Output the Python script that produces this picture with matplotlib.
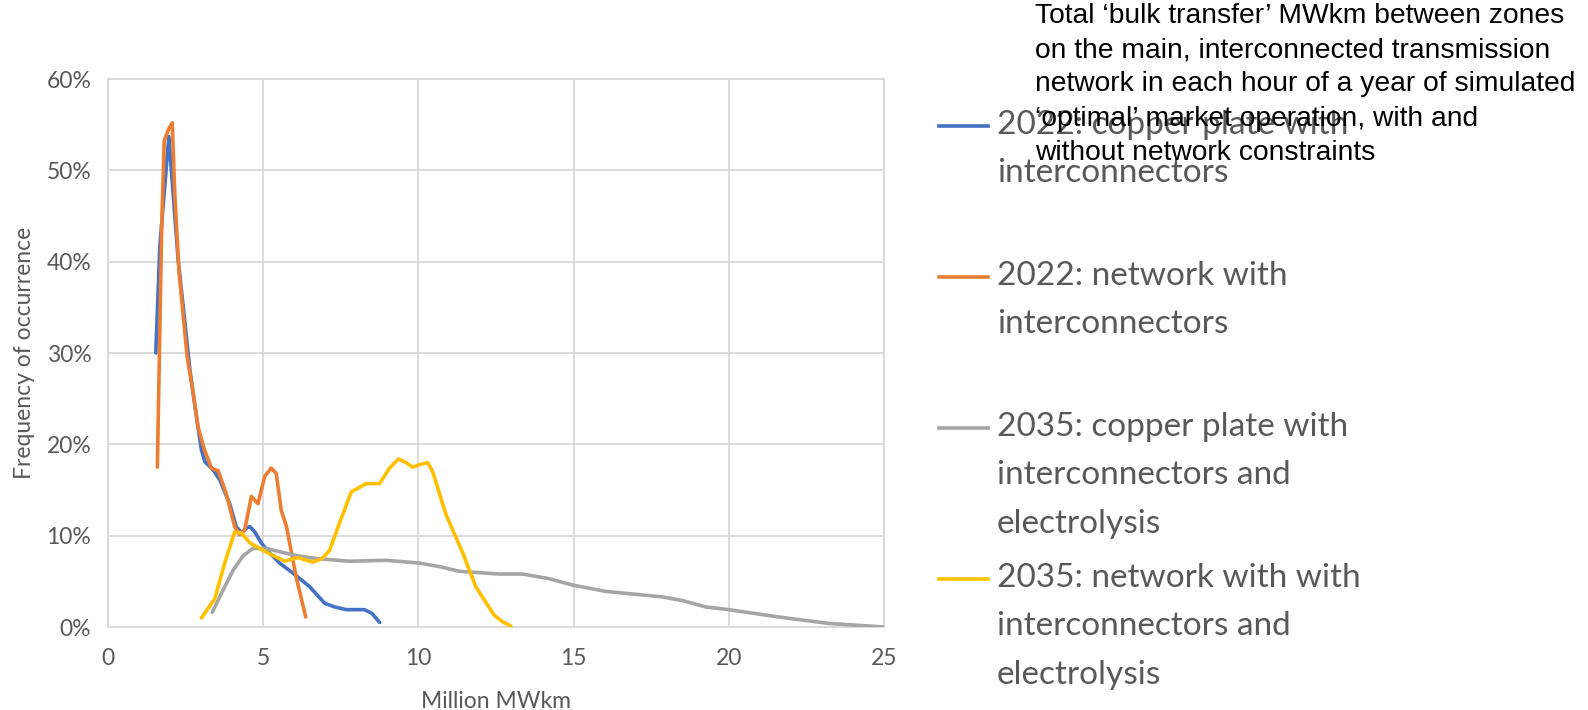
import matplotlib.pyplot as plt
from matplotlib.lines import Line2D
from matplotlib.ticker import FuncFormatter

# frequency of occurrence (%) against bulk transfer (million MWkm)
cp22_x = [1.54, 1.67, 1.96, 2.26, 2.48, 2.64, 2.85, 3.01, 3.12, 3.39, 3.6, 3.92, 4.13, 4.30, 4.45,
          4.57, 4.73, 4.94, 5.21, 5.53, 5.96, 6.5, 6.98, 7.3, 7.67, 8.0, 8.26, 8.5, 8.75]
cp22_y = [30.0, 41.7, 53.7, 40.2, 33.3, 28.1, 23.0, 19.4, 18.1, 17.2, 16.1, 13.5, 11.0, 10.3, 10.8,
          11.0, 10.4, 9.2, 8.1, 7.0, 5.9, 4.4, 2.6, 2.2, 1.9, 1.9, 1.9, 1.5, 0.5]

nw22_x = [1.59, 1.73, 1.81, 1.95, 2.07, 2.15, 2.29, 2.55, 2.75, 2.90, 3.1, 3.33, 3.55, 3.81, 4.08,
          4.24, 4.40, 4.62, 4.83, 5.05, 5.26, 5.42, 5.58, 5.75, 6.06, 6.37]
nw22_y = [17.5, 43.8, 53.2, 54.5, 55.2, 47.5, 38.8, 29.6, 25.5, 21.9, 19.5, 17.4, 17.1, 14.6, 11.0,
          10.1, 10.6, 14.3, 13.5, 16.5, 17.4, 16.8, 12.8, 11.0, 5.5, 1.1]

cp35_x = [3.36, 3.7, 4.03, 4.35, 4.67, 5.1, 5.58, 6.1, 6.71, 7.78, 8.96, 10.03, 10.7, 11.32, 12.6,
          13.35, 14.2, 14.96, 16.03, 17.85, 18.5, 19.25, 20.0, 21.6, 23.2, 25.0]
cp35_y = [1.6, 4.0, 6.2, 7.8, 8.6, 8.6, 8.2, 7.8, 7.5, 7.2, 7.3, 7.0, 6.6, 6.1, 5.8,
          5.8, 5.3, 4.6, 3.9, 3.3, 2.9, 2.2, 1.9, 1.1, 0.4, 0.0]

nw35_x = [3.01, 3.44, 3.76, 4.08, 4.30, 4.57, 5.1, 5.69, 6.12, 6.6, 6.9, 7.14, 7.46, 7.84, 8.32,
          8.75, 9.07, 9.36, 9.6, 9.82, 10.05, 10.3, 10.46, 10.89, 11.43, 11.85, 12.44, 12.7, 12.98]
nw35_y = [1.0, 3.1, 7.0, 10.4, 10.3, 9.2, 8.2, 7.2, 7.6, 7.1, 7.5, 8.4, 11.4, 14.8, 15.7,
          15.7, 17.4, 18.4, 18.0, 17.5, 17.8, 18.0, 17.0, 12.3, 8.1, 4.4, 1.3, 0.6, 0.1]

labels = ["2022: copper plate with\ninterconnectors",
          "2022: network with\ninterconnectors",
          "2035: copper plate with\ninterconnectors and\nelectrolysis",
          "2035: network with with\ninterconnectors and\nelectrolysis"]
colors = ["#4472C4", "#ED7D31", "#A5A5A5", "#FFC000"]

title = ("Total \u2018bulk transfer\u2019 MWkm between zones\n"
         "on the main, interconnected transmission\n"
         "network in each hour of a year of simulated\n"
         "\u2018optimal\u2019 market operation, with and\n"
         "without network constraints")

plt.rcParams['font.family'] = ['Lato', 'DejaVu Sans']
txt = "#595959"
grid = "#D9D9D9"

fig = plt.figure(figsize=(15.88, 7.10), dpi=100)
ax = fig.add_axes([108 / 1588, 1 - 627 / 710, (884 - 108) / 1588, (627 - 79) / 710])

series = [(cp22_x, cp22_y), (nw22_x, nw22_y), (cp35_x, cp35_y), (nw35_x, nw35_y)]
for (xs, ys), c in zip(series, colors):
    ax.plot(xs, [v / 100 for v in ys], color=c, lw=2.6,
            solid_joinstyle='round', solid_capstyle='round', zorder=3)

ax.set_xlim(0, 25)
ax.set_ylim(0, 0.6)
ax.set_xticks(range(0, 26, 5))
ax.set_yticks([i / 10 for i in range(7)])
ax.yaxis.set_major_formatter(FuncFormatter(lambda v, p: f"{v * 100:.0f}%"))
ax.grid(True, color=grid, lw=1.3)
ax.set_axisbelow(True)
for s in ax.spines.values():
    s.set_color(grid)
    s.set_linewidth(1.3)
ax.tick_params(length=0, labelsize=16.5, labelcolor=txt)
ax.tick_params(axis='x', pad=15)
ax.tick_params(axis='y', pad=12)
ax.set_xlabel("Million MWkm", fontsize=16.5, color=txt, labelpad=16)
ax.set_ylabel("Frequency of occurrence", fontsize=16.5, color=txt, labelpad=8)

# legend drawn by hand so each key sits on the first line of its label
leg_y = [126, 277, 428, 579]
for lab, c, yp in zip(labels, colors, leg_y):
    yf = 1 - yp / 710
    fig.add_artist(Line2D([939 / 1588, 988 / 1588], [yf, yf], color=c, lw=2.6,
                          transform=fig.transFigure))
    fig.text(997 / 1588, yf + 16 / 710, lab, fontsize=24, color=txt, va='top', ha='left',
             linespacing=1.77)

fig.text(1035 / 1588, 1 - 3 / 710, title, fontsize=20.3, color='black', va='top', ha='left',
         family=['Liberation Sans', 'DejaVu Sans'], linespacing=1.41)

fig.savefig("out.png", dpi=100)
